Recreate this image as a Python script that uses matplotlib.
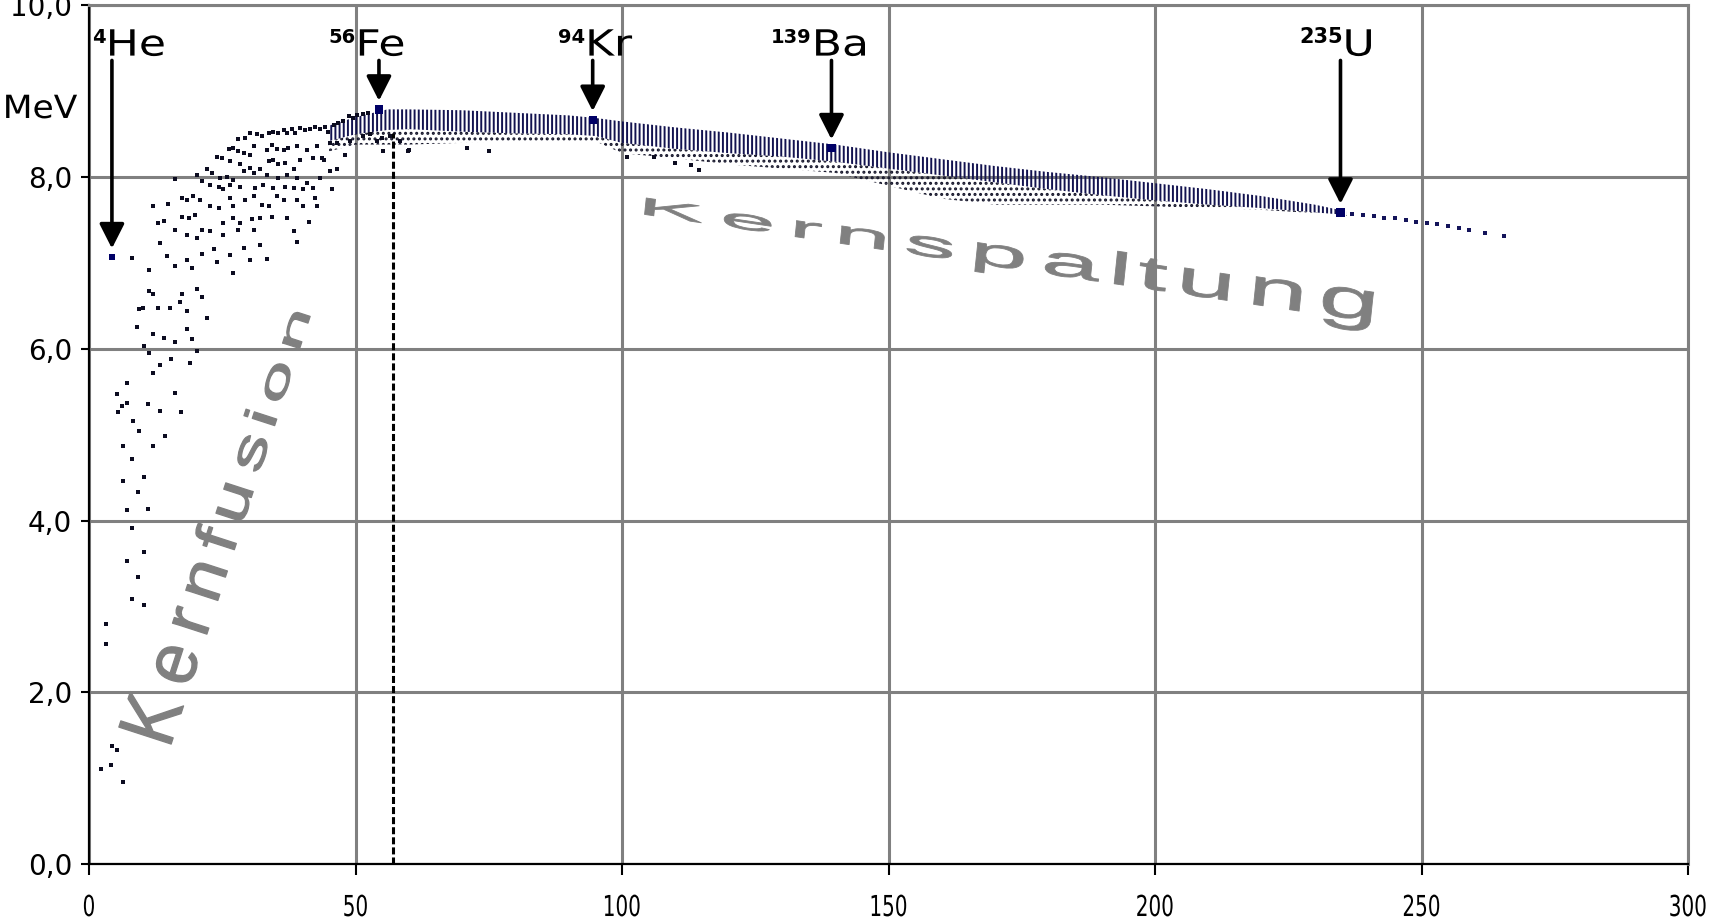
import numpy as np
import matplotlib
matplotlib.use('Agg')
import matplotlib.pyplot as plt
from matplotlib import patheffects
from matplotlib.path import Path
from matplotlib.transforms import IdentityTransform

# binding energy per nucleon (MeV) against mass number
light_points = [
    (28.0, 8.45), (29.3, 8.46), (30.2, 8.52), (31.5, 8.50), (32.4, 8.48), (33.7, 8.52), (34.6, 8.53),
    (35.5, 8.52), (36.5, 8.55), (37.1, 8.52), (38.0, 8.56), (38.7, 8.52), (39.6, 8.57), (40.5, 8.55),
    (41.5, 8.56), (42.4, 8.59), (43.4, 8.56), (44.3, 8.59), (44.9, 8.53), (45.9, 8.61), (46.8, 8.63),
    (47.7, 8.65), (48.7, 8.71), (49.6, 8.69), (50.2, 8.73), (51.5, 8.74), (52.4, 8.75),
    (26.2, 8.33), (27.1, 8.34), (28.0, 8.30), (29.0, 8.28), (30.2, 8.26), (30.9, 8.36), (33.4, 8.32),
    (34.3, 8.38), (35.2, 8.33), (36.5, 8.32), (37.4, 8.34), (39.0, 8.36), (40.9, 8.32), (42.7, 8.36),
    (43.7, 8.22), (45.2, 8.40), (46.5, 8.40), (48.0, 8.26), (49.0, 8.42), (51.5, 8.48), (52.7, 8.50),
    (54.0, 8.42), (54.9, 8.46), (56.5, 8.48), (58.4, 8.42), (59.9, 8.30),
    (24.0, 8.24), (24.9, 8.22), (26.5, 8.19), (28.4, 8.15), (30.2, 8.11), (32.1, 8.09), (33.7, 8.19),
    (34.6, 8.20), (35.5, 8.15), (36.8, 8.17), (38.4, 8.09), (39.6, 8.20), (42.1, 8.22), (44.0, 8.20),
    (45.2, 8.07), (46.5, 8.09),
    (20.2, 8.03), (22.1, 8.09), (23.0, 8.05), (24.6, 7.99), (25.9, 8.00), (27.1, 7.97), (29.0, 8.07),
    (30.9, 8.05), (33.4, 8.03), (35.5, 7.99), (37.1, 8.02), (39.0, 7.99), (40.9, 7.93), (43.4, 7.99),
    (16.2, 7.98), (21.2, 7.95), (22.7, 7.91), (24.3, 7.89), (25.2, 7.86), (26.5, 7.91), (28.4, 7.89),
    (31.2, 7.87), (32.7, 7.91), (34.6, 7.87), (36.8, 7.89), (38.4, 7.87), (40.2, 7.86), (42.1, 7.87),
    (45.5, 7.86),
    (12.1, 7.66), (14.9, 7.69), (17.4, 7.76), (18.4, 7.74), (19.6, 7.78), (20.9, 7.74), (22.7, 7.66),
    (24.3, 7.64), (26.5, 7.76), (27.1, 7.67), (29.3, 7.74), (30.9, 7.78), (32.4, 7.68), (33.7, 7.66),
    (35.2, 7.78), (36.5, 7.74), (39.0, 7.74), (40.2, 7.66), (42.7, 7.67), (42.4, 7.76),
    (13.0, 7.47), (14.0, 7.49), (17.4, 7.54), (18.7, 7.53), (19.9, 7.56), (21.2, 7.39), (22.7, 7.37),
    (25.2, 7.47), (27.1, 7.53), (28.4, 7.47), (30.5, 7.51), (32.1, 7.53), (34.3, 7.54), (37.1, 7.53),
    (38.4, 7.37), (41.2, 7.48),
    (13.4, 7.23), (16.2, 7.38), (18.4, 7.33), (20.2, 7.29), (23.4, 7.16), (25.2, 7.33), (28.0, 7.39),
    (29.0, 7.18), (30.9, 7.39), (32.1, 7.21), (39.0, 7.25),
    (8.0, 7.06), (11.2, 6.92), (14.6, 7.08), (16.2, 6.96), (18.4, 7.04), (19.3, 6.94), (21.2, 7.11),
    (24.0, 7.01), (26.5, 7.09), (27.1, 6.88), (30.2, 7.04), (33.4, 7.05),
    (11.2, 6.67), (12.1, 6.64), (17.4, 6.64), (17.1, 6.55), (20.2, 6.70), (21.2, 6.60),
    (9.3, 6.46), (10.2, 6.48), (13.0, 6.48), (15.2, 6.48), (18.4, 6.44), (22.1, 6.36), (9.0, 6.26),
    (12.1, 6.17), (18.4, 6.23), (14.0, 6.13),
    (16.2, 6.08), (19.3, 6.11), (10.3, 6.03), (11.2, 5.95), (20.3, 5.97), (13.4, 5.81), (15.3, 5.88),
    (19.0, 5.84), (12.1, 5.72), (7.1, 5.60), (16.2, 5.49), (5.3, 5.47), (7.1, 5.37), (6.2, 5.33),
    (11.1, 5.36), (5.4, 5.26), (13.3, 5.28), (17.3, 5.26), (8.3, 5.16), (9.3, 5.04), (14.3, 4.99),
    (6.3, 4.87), (12.1, 4.87), (8.1, 4.72), (6.3, 4.46), (10.3, 4.51), (9.2, 4.33), (7.1, 4.12),
    (11.1, 4.14), (8.1, 3.91), (10.4, 3.64), (7.1, 3.53), (9.2, 3.34), (8.1, 3.09), (10.4, 3.02),
    (3.2, 2.80), (3.2, 2.56), (4.3, 1.38), (5.3, 1.33), (2.3, 1.11), (4.1, 1.15), (6.3, 0.95),
    (55.2, 8.30), (60.0, 8.32), (71.0, 8.34), (75.0, 8.30), (101, 8.24), (106, 8.24), (110, 8.16),
    (113, 8.14), (114.5, 8.08),
]

# the dense band of heavier nuclei
band_A = [45, 50, 56, 60, 70, 80, 90, 95, 100, 110, 120, 130, 140, 150, 160, 170, 180, 190, 200, 210, 220, 230, 236]
band_top = [8.60, 8.70, 8.79, 8.79, 8.78, 8.75, 8.72, 8.69, 8.65, 8.58, 8.52, 8.45, 8.38, 8.29, 8.21, 8.13,
            8.06, 8.00, 7.93, 7.86, 7.78, 7.68, 7.60]
band_core_bottom = [8.42, 8.50, 8.55, 8.56, 8.53, 8.51, 8.50, 8.48, 8.40, 8.33, 8.28, 8.24, 8.18, 8.10, 8.02,
                    7.94, 7.86, 7.79, 7.73, 7.68, 7.64, 7.59, 7.56]
band_fringe_bottom = [8.30, 8.38, 8.38, 8.38, 8.40, 8.42, 8.42, 8.42, 8.28, 8.22, 8.15, 8.10, 8.05, 7.90, 7.75,
                      7.68, 7.68, 7.68, 7.66, 7.64, 7.62, 7.58, 7.55]

tail_points = [(237, 7.57), (239, 7.56), (241, 7.55), (243, 7.53), (245, 7.52), (247, 7.50), (249, 7.48),
               (251, 7.47), (253, 7.45), (255, 7.43), (257, 7.41), (259, 7.39), (262, 7.35), (265.5, 7.31)]

marked_symbol = ['He', 'Fe', 'Kr', 'Ba', 'U']
marked_mass = ['4', '56', '94', '139', '235']
marked_A = [4.3, 54.4, 94.5, 139.3, 234.8]
marked_E = [7.07, 8.79, 8.67, 8.34, 7.59]

fe_line_A = 57
fe_line_top = 8.52

x_ticks = [0, 50, 100, 150, 200, 250, 300]
y_ticks = [0, 2, 4, 6, 8, 10]
y_tick_labels = ['0,0', '2,0', '4,0', '6,0', '8,0', '10,0']


class WordArt(patheffects.AbstractPathEffect):
    # lays the glyphs of a text out along a slanted baseline, WordArt style
    def __init__(self, anchor, angle, up_angle, track, width, height, stroke=1.0, em=100.0):
        super().__init__()
        self.anchor = np.asarray(anchor, float)
        self.d = np.array([np.cos(np.radians(angle)), np.sin(np.radians(angle))])
        self.up = np.array([np.cos(np.radians(up_angle)), np.sin(np.radians(up_angle))])
        self.track, self.width, self.height = track, width, height
        self.stroke, self.em = stroke, em

    def draw_path(self, renderer, gc, tpath, affine, rgbFace=None):
        verts = affine.transform(tpath.vertices)
        codes = tpath.codes
        u = (verts[:, 0] - self.anchor[0]) / self.em
        v = (verts[:, 1] - self.anchor[1]) / self.em
        starts = list(np.flatnonzero(codes == Path.MOVETO)) + [len(codes)]
        groups = []
        for s, e in zip(starts[:-1], starts[1:]):
            keep = codes[s:e] != Path.CLOSEPOLY
            lo, hi = u[s:e][keep].min(), u[s:e][keep].max()
            mid = (lo + hi) / 2
            if groups and groups[-1][0] <= mid <= groups[-1][1]:
                groups[-1][0] = min(groups[-1][0], lo)
                groups[-1][1] = max(groups[-1][1], hi)
                groups[-1][2].append((s, e))
            else:
                groups.append([lo, hi, [(s, e)]])
        mids = [(g[0] + g[1]) / 2 for g in groups]
        centre = np.zeros(len(u))
        for g, m in zip(groups, mids):
            for s, e in g[2]:
                centre[s:e] = m
        f = (centre - mids[0]) / (mids[-1] - mids[0])
        w = self.width[0] + (self.width[1] - self.width[0]) * f
        h = self.height[0] + (self.height[1] - self.height[0]) * f
        t = centre * self.track + (u - centre) * w
        p = v * h
        new = self.anchor + t[:, None] * self.d + p[:, None] * self.up
        gc2 = renderer.new_gc()
        gc2.copy_properties(gc)
        gc2.set_linewidth(self.stroke)
        gc2.set_joinstyle('round')
        renderer.draw_path(gc2, Path(new, codes), IdentityTransform(), rgbFace)
        gc2.restore()


class Stretch(patheffects.AbstractPathEffect):
    # widens / heightens a text from its lower left corner
    def __init__(self, sx=1.0, sy=1.0):
        super().__init__()
        self.sx, self.sy = sx, sy

    def draw_path(self, renderer, gc, tpath, affine, rgbFace=None):
        verts = affine.transform(tpath.vertices)
        keep = tpath.codes != Path.CLOSEPOLY
        x0, y0 = verts[keep, 0].min(), verts[keep, 1].min()
        verts[:, 0] = x0 + (verts[:, 0] - x0) * self.sx
        verts[:, 1] = y0 + (verts[:, 1] - y0) * self.sy
        renderer.draw_path(gc, Path(verts, tpath.codes), IdentityTransform(), rgbFace)


plt.rcParams['hatch.linewidth'] = 1.4
W, H = 1711, 921
fig = plt.figure(figsize=(W / 100, H / 100), dpi=100)
ax = fig.add_axes([89 / W, 1 - 864 / H, (1688 - 89) / W, (864 - 5.5) / H])

grey = '#808080'
ax.set_xlim(0, 300)
ax.set_ylim(0, 10)
ax.set_xticks(x_ticks)
ax.set_yticks(y_ticks)
ax.set_xticklabels([str(t) for t in x_ticks], fontfamily='DejaVu Sans', fontstretch='condensed', fontsize=16)
ax.set_yticklabels(y_tick_labels, fontfamily='DejaVu Sans', fontsize=20)
for lab in ax.get_xticklabels():
    lab.set_path_effects([Stretch(1.0, 1.3)])
ax.grid(True, color=grey, lw=2.2)
ax.set_axisbelow(True)
for side in ['top', 'right']:
    ax.spines[side].set_color(grey)
    ax.spines[side].set_linewidth(2.2)
for side in ['left', 'bottom']:
    ax.spines[side].set_color('black')
    ax.spines[side].set_linewidth(1.6)
ax.tick_params(axis='x', direction='out', length=8, width=1.5, pad=18)
ax.tick_params(axis='y', direction='out', length=6, width=1.5, pad=6)

# band of heavy nuclei
ax.fill_between(band_A, band_fringe_bottom, band_core_bottom, facecolor='none', edgecolor='#15152a',
                hatch='...', lw=0)
ax.fill_between(band_A, band_core_bottom, band_top, facecolor='none', edgecolor='#12124f',
                hatch='||||', lw=0)

la, le = zip(*light_points)
ax.scatter(la, le, marker='s', s=6, color='#0c0c20', lw=0)
ta, te = zip(*tail_points)
ax.scatter(ta, te, marker='s', s=7, color='#14145a', lw=0)

ax.vlines(fe_line_A, 0, fe_line_top, colors='black', linestyles=(0, (2.3, 1.0)), lw=2.2)

sizes = [16, 40, 36, 36, 36]
ax.scatter(marked_A, marked_E, marker='s', s=sizes, color='#000066', lw=0, zorder=4)

# labels and arrows
label_x = [0.6, 44.9, 88.0, 128.0, 227.0]
sup_size = [14, 14, 14, 14, 15]
for sym, mass, a, e, lx, ss in zip(marked_symbol, marked_mass, marked_A, marked_E, label_x, sup_size):
    ax.annotate('', xy=(a, e + 0.1), xytext=(a, 9.36),
                arrowprops=dict(arrowstyle='-|>,head_length=0.75,head_width=0.38', lw=2.6,
                                color='black', mutation_scale=20, shrinkA=0, shrinkB=0))
    sup = ax.text(lx, 9.56, mass, fontsize=ss, fontweight='bold', fontfamily='DejaVu Sans',
                  ha='left', va='baseline')
    symt = ax.annotate(sym, xy=(1, 0), xycoords=sup, xytext=(0.5, -6), textcoords='offset points',
                       fontsize=26, fontfamily='DejaVu Sans', ha='left', va='baseline')
    symt.set_path_effects([Stretch(1.22, 1.0)])

mev = fig.text(3 / W, 1 - 118 / H, 'MeV', fontsize=23, fontfamily='DejaVu Sans', ha='left', va='baseline')
mev.set_path_effects([Stretch(1.08, 1.0)])

spalt = fig.text(625.5 / W, 1 - 211.6 / H, 'Kernspaltung', fontsize=72, fontfamily='Liberation Sans',
                 color=grey, ha='left', va='baseline')
spalt.set_path_effects([WordArt((625.5, H - 211.6), -8.4, 84, 130, (100, 110), (24, 56), stroke=0.6)])

fusion = fig.text(166 / W, 1 - 760 / H, 'Kernfusion', fontsize=72, fontfamily='Liberation Sans',
                  color=grey, ha='left', va='baseline')
fusion.set_path_effects([WordArt((166, H - 760), 72, 162, 99.8, (70, 80), (80, 34), stroke=0.9)])

fig.savefig('out.png', dpi=100)
